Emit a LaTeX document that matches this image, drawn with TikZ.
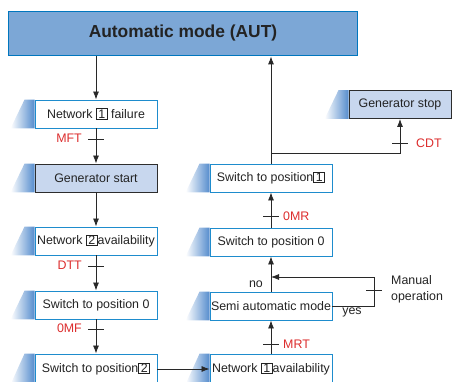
\documentclass[tikz,border=0pt]{standalone}
\usepackage{fontspec}
\setmainfont{Liberation Sans}
\usetikzlibrary{arrows.meta,backgrounds,calc}
\definecolor{autfill}{RGB}{124,167,214}
\definecolor{autline}{RGB}{0,118,190}
\definecolor{boxline}{RGB}{30,140,205}
\definecolor{genfill}{RGB}{200,215,238}
\definecolor{genline}{RGB}{45,45,45}
\definecolor{shblue}{RGB}{85,140,205}
\definecolor{lblred}{RGB}{220,45,45}
\definecolor{txt}{RGB}{35,35,35}
\definecolor{ln}{RGB}{40,40,40}
\newcommand\bx[1]{{\setlength\fboxsep{0pt}\setlength\fboxrule{0.6pt}\fbox{\hspace{1.8pt}\rule[-0.8pt]{0pt}{10pt}#1\hspace{1.8pt}}}}
\tikzset{
  base/.style={font=\fontsize{12.4}{14}\selectfont, text=txt, inner sep=0pt},
  wbox/.style={base, draw=boxline, line width=0.9pt, fill=white, minimum width=122pt, minimum height=28pt},
  gbox/.style={base, draw=genline, line width=0.9pt, fill=genfill, minimum height=28pt},
  arr/.style={draw=ln, line width=0.8pt, -{Latex[length=8pt,width=6pt]}},
  ln/.style={draw=ln, line width=0.8pt},
  tickline/.style={draw=ln, line width=0.7pt},
  red/.style={base, text=lblred},
  lbl/.style={base},
  shd/.style={left color=white, right color=shblue}
}
\begin{document}
\begin{tikzpicture}[x=1pt,y=-1pt]
\useasboundingbox (0,0) rectangle (455,382);
\clip (0,0) rectangle (455,382);
% title
\node[draw=autline, line width=1.8pt, fill=autfill, minimum width=349pt, minimum height=44pt,
  font=\fontsize{17.4}{20}\selectfont\bfseries, text=txt, inner sep=0pt] (AUT) at (183,33.5) {Automatic mode (AUT)};
% left column
\node[wbox] (N1F) at (96,114) {Network \bx{1} failure};
\node[gbox, minimum width=122pt] (GS) at (96,178) {Generator start};
\node[wbox] (N2A) at (96,241) {Network \bx{2}availability};
\node[wbox] (S0L) at (96,305) {Switch to position 0};
\node[wbox, minimum height=30pt] (S2) at (96,369) {Switch to position\bx{2}};
% right column
\node[gbox, minimum width=102pt] (GStop) at (400,104.5) {Generator stop};
\node[wbox] (S1) at (271,178) {Switch to position\bx{1}};
\node[wbox] (S0R) at (271,242) {Switch to position 0};
\node[wbox] (SA) at (271,306) {Semi automatic mode};
\node[wbox, minimum height=30pt] (N1A) at (271,369) {Network \bx{1}availability};
% shading
\begin{scope}[on background layer]
\foreach \n in {N1F,GS,N2A,S0L,S2,GStop,S1,S0R,SA,N1A}{
  \shade[shd] (\n.south west) -- ++(-24,0) -- ([xshift=-10pt]\n.north west) -- (\n.north west) -- cycle;
}
\end{scope}
% left connectors
\draw[arr] (AUT.south -| N1F.north) -- (N1F.north);
\draw[arr] (N1F.south) -- (GS.north);
\draw[arr] (GS.south) -- (N2A.north);
\draw[arr] (N2A.south) -- (S0L.north);
\draw[arr] (S0L.south) -- (S2.north);
\draw[arr] (S2.east) -- (N1A.west);
% right connectors
\draw[arr] (N1A.north) -- (SA.south);
\draw[arr] (SA.north) -- (S0R.south);
\draw[arr] (S0R.north) -- (S1.south);
\draw[arr] (S1.north) -- (AUT.south -| S1.north);
\coordinate (br) at ($(S1.north)+(0,-10)$);
\draw[arr] (br) -| (GStop.south);
\coordinate (mo) at (374,0);
\coordinate (ret) at (271,277);
\draw[arr] (SA.east) -- (SA.east -| mo) -- (ret -| mo) -- (ret);
% ticks
\foreach \x/\y in {96/139, 96/266, 96/329, 271/344, 271/216, 400/143}{
  \draw[tickline] (\x-8,\y) -- (\x+8,\y);
}
\draw[tickline] (366,290) -- (382,290);
% labels
\node[red, anchor=east] at (82,138.5) {MFT};
\node[red, anchor=east] at (82,265.5) {DTT};
\node[red, anchor=east] at (82,328.5) {0MF};
\node[red, anchor=west] at (283,344) {MRT};
\node[red, anchor=west] at (283,216) {0MR};
\node[red, anchor=west] at (416,143) {CDT};
\node[lbl, anchor=east] at (263,284) {no};
\node[lbl] at (352,312) {yes};
\node[lbl, anchor=west, align=left, font=\fontsize{12.4}{16}\selectfont] at (391,289) {Manual\\operation};
\end{tikzpicture}
\end{document}
